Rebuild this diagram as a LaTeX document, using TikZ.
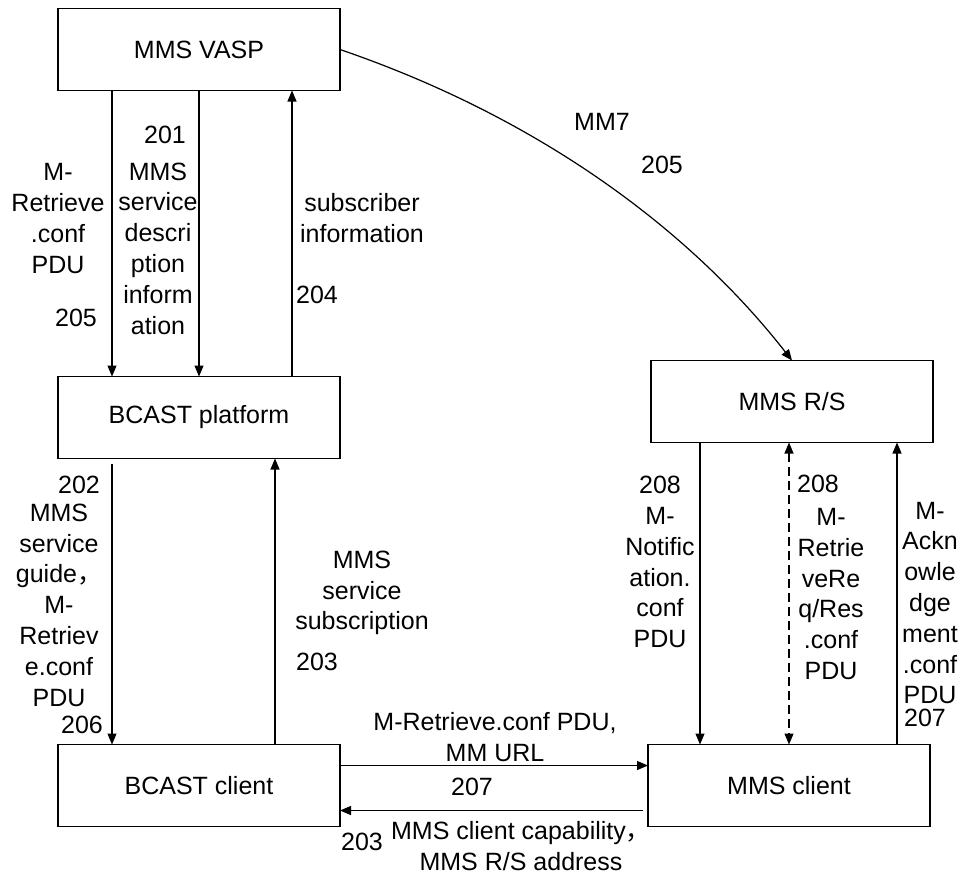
\documentclass[tikz,border=0pt]{standalone}
\usepackage{fontspec}
\setmainfont{Liberation Sans}
\newfontfamily\cjk{Noto Sans CJK SC}
\usetikzlibrary{arrows.meta}

\begin{document}
\begin{tikzpicture}[->,>={Triangle[length=11pt,width=9pt]},x=1pt,y=-1pt,line width=1.2pt,font=\fontsize{25pt}{30.8pt}\selectfont]
	\tikzstyle{box} = [draw,line width=1.4pt,minimum width=282pt,minimum height=82pt,outer sep=0pt]
	\tikzstyle{lbl} = [align=center,inner sep=0pt]
	\useasboundingbox (0,0) rectangle (964,876);

	\node[box] (vasp) at (199,49.5) {MMS VASP};
	\node[box] (platform) at (199,417.5) {BCAST platform};
	\node[box] (bclient) at (199,785.5) {BCAST client};
	\node[box] (rs) at (792,401.5) {MMS R/S};
	\node[box] (mclient) at (789,785.5) {MMS client};

	\node[lbl] (l205a) at (58,218.5) {M-\\Retrieve\\.conf\\PDU};
	\node[lbl] (n205a) at (76,318) {205};
	\node[lbl] (n201) at (165,135) {201};
	\node[lbl] (l201) at (158,248.5) {MMS\\service\\descri\\ption\\inform\\ation};
	\node[lbl] (l204) at (362,218) {subscriber\\information};
	\node[lbl] (n204) at (317,295) {204};
	\node[lbl] (lmm7) at (602,122) {MM7};
	\node[lbl] (n205b) at (662,165) {205};
	\node[lbl] (n202) at (79,485) {202};
	\node[lbl] (l202) at (59,605) {MMS\\service\\guide{\cjk ，}\\M-\\Retriev\\e.conf\\PDU};
	\node[lbl] (n206) at (82,725) {206};
	\node[lbl] (l203a) at (362,593) {MMS\\service\\subscription};
	\node[lbl] (n203a) at (317,662) {203};
	\node[lbl] (l207a) at (495,737) {M-Retrieve.conf PDU,\\MM URL};
	\node[lbl] (n207a) at (472,787) {207};
	\node[lbl] (n203b) at (362,842) {203};
	\node[lbl] (l203b) at (521,846) {MMS client capability{\cjk ，}\\MMS R/S address};
	\node[lbl] (l208a) at (660,562) {208\\M-\\Notific\\ation.\\conf\\PDU};
	\node[lbl] (n208b) at (818,484) {208};
	\node[lbl] (l208b) at (831,594) {M-\\Retrie\\veRe\\q/Res\\.conf\\PDU};
	\node[lbl] (l207b) at (930,603) {M-\\Ackn\\owle\\dge\\ment\\.conf\\PDU};
	\node[lbl] (n207b) at (925,718) {207};

	% VASP <-> BCAST platform
	\path ([xshift=54pt]vasp.south west) edge ([xshift=54pt]platform.north west);
	\path (vasp.south) edge (platform.north);
	\path ([xshift=-48pt]platform.north east) edge ([xshift=-48pt]vasp.south east);
	\draw (vasp.east) .. controls (540,118) and (690,230) .. (rs.north);

	% BCAST platform <-> BCAST client
	\path ([xshift=54pt,yshift=-5pt]platform.south west) edge ([xshift=54pt]bclient.north west);
	\path ([xshift=217pt]bclient.north west) edge ([xshift=217pt]platform.south west);

	% BCAST client <-> MMS client
	\coordinate (c1) at ([yshift=20pt]bclient.east);
	\coordinate (c2) at ([yshift=-25pt]mclient.west);
	\path (c1) edge (c1 -| mclient.west);
	\path ([xshift=-5pt]c2) edge (c2 -| bclient.east);

	% MMS R/S <-> MMS client
	\coordinate (c3) at ([xshift=52pt]mclient.north west);
	\coordinate (c4) at ([xshift=-33pt]mclient.north east);
	\path (c3 |- rs.south) edge (c3);
	\path (mclient.north |- rs.south) edge[<->,dash pattern=on 9pt off 5pt] (mclient.north);
	\path (c4) edge (c4 |- rs.south);
\end{tikzpicture}
\end{document}
